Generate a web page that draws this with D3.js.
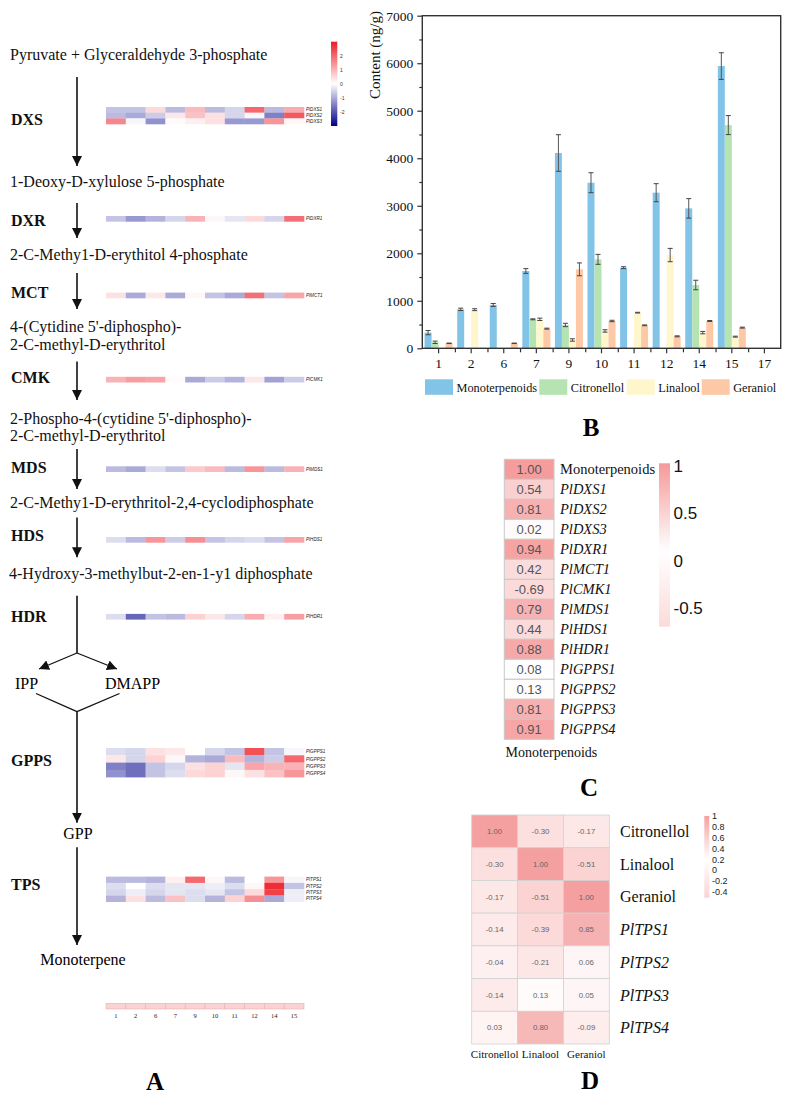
<!DOCTYPE html>
<html><head><meta charset="utf-8">
<script src="https://cdn.jsdelivr.net/npm/d3@7"></script>
<style>body{margin:0;background:#fff}</style>
</head><body>
<svg id="c" width="794" height="1098"></svg>
<script>
// ---------------- DATA ----------------
// Panel A
const samplesA = ["1","2","6","7","9","10","11","12","14","15"];
const metabolites = ["Pyruvate + Glyceraldehyde 3-phosphate","1-Deoxy-D-xylulose 5-phosphate","2-C-Methy1-D-erythitol 4-phosphate","4-(Cytidine 5'-diphospho)-","2-C-methyl-D-erythritol","2-Phospho-4-(cytidine 5'-diphospho)-","2-C-methyl-D-erythritol","2-C-Methy1-D-erythritol-2,4-cyclodiphosphate","4-Hydroxy-3-methylbut-2-en-1-y1 diphosphate"];
const enzymes = ["DXS","DXR","MCT","CMK","MDS","HDS","HDR","GPPS","TPS"];
const dxsGenes = ["PlDXS1","PlDXS2","PlDXS3"];
const dxsExpr = [[-0.7,-0.7,0.5,-0.8,0.9,-0.8,-0.5,2.0,-0.8,1.1],[-0.8,-1.0,-0.6,0.3,0.8,0.4,-0.5,-0.1,-1.5,2.2],[1.6,-0.1,-1.3,0.05,0.2,0.4,-1.2,-1.2,1.4,0.1]];
const dxrGenes = ["PlDXR1"];
const dxrExpr = [[-0.7,-1.2,-0.9,-0.5,1.0,0.1,-0.3,0.5,-0.5,1.9]];
const mctGenes = ["PlMCT1"];
const mctExpr = [[0.4,-1.0,0.3,-1.0,0.1,-0.7,-1.0,1.9,-0.7,1.2]];
const cmkGenes = ["PlCMK1"];
const cmkExpr = [[1.0,1.3,1.2,0.05,-1.0,-0.6,-0.9,0.3,-1.1,-0.6]];
const mdsGenes = ["PlMDS1"];
const mdsExpr = [[-0.8,-1.0,-0.4,-0.7,0.7,0.9,-0.8,1.4,-0.8,1.0]];
const hdsGenes = ["PlHDS1"];
const hdsExpr = [[-0.4,-0.8,1.4,-0.6,1.5,-0.7,-0.5,-0.4,-0.7,1.2]];
const hdrGenes = ["PlHDR1"];
const hdrExpr = [[-0.4,-1.8,-0.7,-0.8,0.6,0.3,-0.5,1.1,0.2,1.3]];
const gppsGenes = ["PlGPPS1","PlGPPS2","PlGPPS3","PlGPPS4"];
const gppsExpr = [[-0.4,-0.5,0.4,0.3,0.0,-0.5,-0.7,2.3,-0.7,-0.1],[0.3,-0.5,0.6,0.1,-0.9,-1.0,0.9,-0.9,-0.6,2.0],[-1.5,-1.7,-0.7,-0.5,0.4,0.6,-0.3,1.2,1.0,1.0],[-1.3,-1.7,-0.7,-0.4,0.5,0.6,0.1,0.4,0.8,1.4]];
const tpsGenes = ["PlTPS1","PlTPS2","PlTPS3","PlTPS4"];
const tpsExpr = [[-0.8,-0.8,-0.9,0.2,2.0,0.1,-0.8,0.0,1.4,-0.1],[-0.4,0.0,-0.4,-0.3,-0.3,-0.2,-0.4,0.1,2.8,-0.7],[-0.5,-0.2,-0.5,-0.3,-0.4,-0.3,-0.7,0.5,2.5,-0.2],[-0.9,0.4,-0.8,0.8,-0.4,-0.9,0.6,1.5,-1.0,-0.2]];
const colorbarATicks = [2,1,0,-1,-2];

// Panel B
const barCats = ["1","2","6","7","9","10","11","12","14","15","17"];
const seriesNames = ["Monoterpenoids","Citronellol","Linalool","Geraniol"];
const monoterpenoids = [330,820,912,1627,4110,3485,1697,3275,2945,5940,0];
const monoterpenoidsErr = [45,25,30,50,385,210,20,190,205,280,0];
const citronellol = [126,0,0,610,491,1872,0,0,1332,4698,0];
const citronellolErr = [25,0,0,10,35,105,0,0,100,200,0];
const linalool = [0,813,0,610,175,365,750,1963,330,245,0];
const linaloolErr = [0,20,0,25,25,25,8,140,25,10,0];
const geraniol = [105,0,105,414,1662,575,484,252,575,435,0];
const geraniolErr = [5,0,5,10,135,15,8,10,10,10,0];
const yTicksB = [0,1000,2000,3000,4000,5000,6000,7000];

// Panel C
const cRows = ["Monoterpenoids","PlDXS1","PlDXS2","PlDXS3","PlDXR1","PlMCT1","PlCMK1","PlMDS1","PlHDS1","PlHDR1","PlGPPS1","PlGPPS2","PlGPPS3","PlGPPS4"];
const cValues = [1.00,0.54,0.81,0.02,0.94,0.42,-0.69,0.79,0.44,0.88,0.08,0.13,0.81,0.91];
const cBarTicks = [1,0.5,0,-0.5];

// Panel D
const dRows = ["Citronellol","Linalool","Geraniol","PlTPS1","PlTPS2","PlTPS3","PlTPS4"];
const dCols = ["Citronellol","Linalool","Geraniol"];
const dValues = [[1.00,-0.30,-0.17],[-0.30,1.00,-0.51],[-0.17,-0.51,1.00],[-0.14,-0.39,0.85],[-0.04,-0.21,0.06],[-0.14,0.13,0.05],[0.03,0.80,-0.09]];
const dBarTicks = [1,0.8,0.6,0.4,0.2,0,-0.2,-0.4];

// ---------------- DRAW ----------------
const serif = "'Liberation Serif','Times New Roman',serif";
const sans = "'Liberation Sans',Arial,sans-serif";
const svg = d3.select("#c");
const defs = svg.append("defs");

// ===== Panel A =====
const A = svg.append("g");
const metY = [54,181,254.6,326.6,344,418,435.6,502,573.3];
metabolites.forEach((t,i)=>{
  A.append("text").attr("x", i===8?9:10).attr("y", metY[i]).attr("dy","0.35em")
   .attr("font-family", serif).attr("font-size", 16).attr("fill","#111").text(t);
});
const enzY = [119,220.4,292.4,377.6,467.8,534.9,616.6,760,884.3];
enzymes.forEach((t,i)=>{
  A.append("text").attr("x", 11).attr("y", enzY[i]).attr("dy","0.35em")
   .attr("font-family", serif).attr("font-weight","bold").attr("font-size", 16).attr("fill","#111").text(t);
});
// arrow marker
defs.append("marker").attr("id","ah").attr("viewBox","0 0 10 10").attr("refX",10).attr("refY",5)
  .attr("markerWidth",10).attr("markerHeight",10).attr("markerUnits","userSpaceOnUse").attr("orient","auto")
  .append("path").attr("d","M0,0 L10,5 L0,10 z").attr("fill","#111");
const ax = 77;
const arrows = [[77,166],[203,238],[273,309],[361.5,400],[449,489],[517.4,557.2],[711.7,822.8],[847.3,945]];
arrows.forEach(a=>{
  A.append("line").attr("x1",ax).attr("x2",ax).attr("y1",a[0]).attr("y2",a[1])
   .attr("stroke","#111").attr("stroke-width",1.6).attr("marker-end","url(#ah)");
});
A.append("line").attr("x1",ax).attr("x2",ax).attr("y1",595.7).attr("y2",653).attr("stroke","#111").attr("stroke-width",1.6);
[[39,669],[117,669]].forEach(p=>{
  A.append("line").attr("x1",ax).attr("y1",653).attr("x2",p[0]).attr("y2",p[1])
   .attr("stroke","#111").attr("stroke-width",1.3).attr("marker-end","url(#ah)");
});
[[36,693.5],[119.5,693.5]].forEach(p=>{
  A.append("line").attr("x1",p[0]).attr("y1",p[1]).attr("x2",ax).attr("y2",711.7)
   .attr("stroke","#111").attr("stroke-width",1.3);
});
A.append("text").attr("x",15).attr("y",683).attr("dy","0.35em").attr("font-family",serif).attr("font-size",16).text("IPP");
A.append("text").attr("x",105).attr("y",683).attr("dy","0.35em").attr("font-family",serif).attr("font-size",16).text("DMAPP");
A.append("text").attr("x",78).attr("y",833.3).attr("dy","0.35em").attr("text-anchor","middle").attr("font-family",serif).attr("font-size",16).text("GPP");
A.append("text").attr("x",83).attr("y",959).attr("dy","0.35em").attr("text-anchor","middle").attr("font-family",serif).attr("font-size",16).text("Monoterpene");

const hx = d3.scaleBand().domain(samplesA).range([106,304]);
const colA = d3.scaleLinear().domain([-3,0,3]).range(["#00008b","#ffffff","#ee1c25"]).clamp(true);
const blocks = [
  {g:dxsGenes,e:dxsExpr,y0:107,h:5.7},
  {g:dxrGenes,e:dxrExpr,y0:216,h:5.5},
  {g:mctGenes,e:mctExpr,y0:292.6,h:5.5},
  {g:cmkGenes,e:cmkExpr,y0:376.8,h:5.5},
  {g:mdsGenes,e:mdsExpr,y0:466.3,h:5.5},
  {g:hdsGenes,e:hdsExpr,y0:537,h:5.5},
  {g:hdrGenes,e:hdrExpr,y0:613.9,h:5.5},
  {g:gppsGenes,e:gppsExpr,y0:748,h:7.3},
  {g:tpsGenes,e:tpsExpr,y0:876.6,h:6.3}
];
blocks.forEach(b=>{
  b.e.forEach((row,ri)=>{
    const yy = b.y0 + ri*b.h;
    A.selectAll(null).data(row).enter().append("rect")
      .attr("x",(d,i)=>hx(samplesA[i])).attr("y",yy).attr("width",hx.bandwidth()+0.3).attr("height",b.h+0.2)
      .attr("fill",d=>colA(d));
    A.append("text").attr("x",306).attr("y",yy+b.h/2).attr("dy","0.35em")
      .attr("font-family",sans).attr("font-style","italic").attr("font-size",4.6).attr("fill","#222").text(b.g[ri]);
  });
});
// colorbar A
const gA = defs.append("linearGradient").attr("id","gA").attr("x1",0).attr("x2",0).attr("y1",0).attr("y2",1);
d3.range(0,1.0001,0.1).forEach(t=>gA.append("stop").attr("offset",t).attr("stop-color",colA(3-6*t)));
const yA = d3.scaleLinear().domain([3,-3]).range([41.7,126]);
A.append("rect").attr("x",331).attr("y",yA(3)).attr("width",6.3).attr("height",yA(-3)-yA(3)).attr("fill","url(#gA)");
colorbarATicks.forEach(v=>{
  A.append("text").attr("x",340).attr("y",yA(v)).attr("dy","0.35em").attr("font-family",sans).attr("font-size",5).attr("fill","#333").text(v);
});
// bottom sample strip
A.selectAll(null).data(samplesA).enter().append("rect")
  .attr("x",d=>hx(d)).attr("y",1003.3).attr("width",hx.bandwidth()).attr("height",5.7)
  .attr("fill","#fbd2d2").attr("stroke","#eeb0b0").attr("stroke-width",0.6);
A.selectAll(null).data(samplesA).enter().append("text")
  .attr("x",d=>hx(d)+hx.bandwidth()/2).attr("y",1015.7).attr("dy","0.35em").attr("text-anchor","middle")
  .attr("font-family",serif).attr("font-size",6.5).attr("fill","#222").text(d=>d);
A.append("text").attr("x",155).attr("y",1081).attr("dy","0.35em").attr("text-anchor","middle")
  .attr("font-family",serif).attr("font-weight","bold").attr("font-size",25).text("A");

// ===== Panel B =====
const B = svg.append("g");
const xB = d3.scaleBand().domain(barCats).range([422.3,780.7]).padding(0);
const yB = d3.scaleLinear().domain([0,7000]).range([348.3,15.7]);
const subB = d3.scaleBand().domain(seriesNames).range([-14,14]);
const barColors = ["#82c4e8","#b5e3b1","#fff6cc","#fcc8a6"];
const vals = [monoterpenoids,citronellol,linalool,geraniol];
const errs = [monoterpenoidsErr,citronellolErr,linaloolErr,geraniolErr];
seriesNames.forEach((s,si)=>{
  const data = barCats.map((c,i)=>({c,v:vals[si][i],e:errs[si][i]}));
  B.selectAll(null).data(data.filter(d=>d.v>0)).enter().append("rect")
    .attr("x",d=>xB(d.c)+xB.bandwidth()/2+subB(s)).attr("width",subB.bandwidth())
    .attr("y",d=>yB(d.v)).attr("height",d=>yB(0)-yB(d.v)).attr("fill",barColors[si]);
  const eb = data.filter(d=>d.v>0 && d.e>0);
  const cx = d=>xB(d.c)+xB.bandwidth()/2+subB(s)+subB.bandwidth()/2;
  B.selectAll(null).data(eb).enter().append("line")
    .attr("x1",cx).attr("x2",cx).attr("y1",d=>yB(d.v-d.e)).attr("y2",d=>yB(d.v+d.e))
    .attr("stroke","#555").attr("stroke-width",1);
  [1,-1].forEach(sg=>{
    B.selectAll(null).data(eb).enter().append("line")
      .attr("x1",d=>cx(d)-2.5).attr("x2",d=>cx(d)+2.5).attr("y1",d=>yB(d.v+sg*d.e)).attr("y2",d=>yB(d.v+sg*d.e))
      .attr("stroke","#444").attr("stroke-width",1);
  });
});
// axes
const yAxB = B.append("g").attr("transform","translate(422.3,0)").call(d3.axisLeft(yB).tickValues(yTicksB).tickSize(5).tickPadding(4).tickFormat(d3.format("d")));
const yMinor = B.append("g").attr("transform","translate(422.3,0)").call(d3.axisLeft(yB).tickValues(d3.range(500,7000,1000)).tickSize(3).tickFormat(""));
const xAxB = B.append("g").attr("transform","translate(0,348.3)").call(d3.axisBottom(xB).tickSize(5).tickPadding(5));
const xMinor = B.append("g").attr("transform","translate(0,348.3)").call(d3.axisBottom(d3.scaleLinear().domain([0,11]).range([422.3,780.7])).tickValues(d3.range(1,11)).tickSize(4).tickFormat(""));
[yAxB,yMinor,xAxB,xMinor].forEach(g=>{
  g.select(".domain").remove();
  g.selectAll("line").attr("stroke","#333").attr("stroke-width",1.2);
  g.selectAll("text").attr("font-family",serif).attr("font-size",13.5).attr("fill","#111");
});
B.append("rect").attr("x",422.3).attr("y",15.7).attr("width",780.7-422.3).attr("height",348.3-15.7)
  .attr("fill","none").attr("stroke","#333").attr("stroke-width",1.4);
B.append("text").attr("transform","translate(375,55) rotate(-90)").attr("dy","0.35em").attr("text-anchor","middle")
  .attr("font-family",serif).attr("font-size",15).attr("fill","#111").text("Content (ng/g)");
// legend
const legX = [425,539.3,626.7,701.7];
seriesNames.forEach((s,i)=>{
  B.append("rect").attr("x",legX[i]).attr("y",379.3).attr("width",28).attr("height",15.5).attr("fill",barColors[i]);
  B.append("text").attr("x",legX[i]+31.5).attr("y",387.3).attr("dy","0.35em").attr("font-family",serif).attr("font-size",12.3).attr("fill","#111").text(s);
});
B.append("text").attr("x",591).attr("y",427.3).attr("dy","0.35em").attr("text-anchor","middle")
  .attr("font-family",serif).attr("font-weight","bold").attr("font-size",25).text("B");

// ===== Panel C =====
const C = svg.append("g");
const yC = d3.scaleBand().domain(cRows).range([459.3,739.3]);
const colC = d3.scaleLinear().domain([-0.69,0.1,1]).range(["#fcdada","#ffffff","#f59c9c"]);
C.selectAll(null).data(cRows).enter().append("rect")
  .attr("x",504.3).attr("y",d=>yC(d)).attr("width",49.7).attr("height",yC.bandwidth())
  .attr("fill",(d,i)=>colC(cValues[i])).attr("stroke","#c8c8c8").attr("stroke-width",1);
C.selectAll(null).data(cRows).enter().append("text")
  .attr("x",529.2).attr("y",d=>yC(d)+yC.bandwidth()/2).attr("dy","0.36em").attr("text-anchor","middle")
  .attr("font-family",sans).attr("font-size",13).attr("fill","#555").text((d,i)=>cValues[i].toFixed(2));
C.selectAll(null).data(cRows).enter().append("text")
  .attr("x",560).attr("y",d=>yC(d)+yC.bandwidth()/2).attr("dy","0.35em")
  .attr("font-family",serif).attr("font-style",(d,i)=>i===0?"normal":"italic").attr("font-size",14.5).attr("fill","#111").text(d=>d);
const gC = defs.append("linearGradient").attr("id","gC").attr("x1",0).attr("x2",0).attr("y1",0).attr("y2",1);
const ycb = d3.scaleLinear().domain([1,-0.5]).range([466,608.3]);
d3.range(0,1.0001,0.05).forEach(t=>gC.append("stop").attr("offset",t).attr("stop-color",colC(ycb.invert(463.3+t*(626.7-463.3)))));
C.append("rect").attr("x",659).attr("y",463.3).attr("width",11).attr("height",626.7-463.3).attr("fill","url(#gC)");
cBarTicks.forEach(v=>{
  C.append("text").attr("x",673.5).attr("y",ycb(v)).attr("dy","0.35em").attr("font-family",sans).attr("font-size",17).attr("fill","#111").text(v);
});
C.append("text").attr("x",505.5).attr("y",752.5).attr("dy","0.35em").attr("font-family",serif).attr("font-size",14).attr("fill","#111").text("Monoterpenoids");
C.append("text").attr("x",589).attr("y",787).attr("dy","0.35em").attr("text-anchor","middle")
  .attr("font-family",serif).attr("font-weight","bold").attr("font-size",25).text("C");

// ===== Panel D =====
const D = svg.append("g");
const xD = d3.scaleBand().domain(dCols).range([471.7,609.3]);
const yD = d3.scaleBand().domain(dRows).range([815,1044]);
const colD = d3.scaleLinear().domain([-0.51,0.2,1]).range(["#fbd3d3","#ffffff","#f4a0a0"]);
dRows.forEach((r,ri)=>{
  dCols.forEach((c,ci)=>{
    const v = dValues[ri][ci];
    D.append("rect").attr("x",xD(c)).attr("y",yD(r)).attr("width",xD.bandwidth()).attr("height",yD.bandwidth())
      .attr("fill",colD(v)).attr("stroke","#d2d2d2").attr("stroke-width",0.8);
    D.append("text").attr("x",xD(c)+xD.bandwidth()/2).attr("y",yD(r)+yD.bandwidth()/2).attr("dy","0.35em").attr("text-anchor","middle")
      .attr("font-family",sans).attr("font-size",7.8).attr("fill","#666").text(v.toFixed(2));
  });
});
D.selectAll(null).data(dRows).enter().append("text")
  .attr("x",620).attr("y",d=>yD(d)+yD.bandwidth()/2).attr("dy","0.35em")
  .attr("font-family",serif).attr("font-style",(d,i)=>i<3?"normal":"italic").attr("font-size",16).attr("fill","#111").text(d=>d);
D.selectAll(null).data(dCols).enter().append("text")
  .attr("x",d=>xD(d)+xD.bandwidth()/2).attr("y",1054.6).attr("dy","0.35em").attr("text-anchor","middle")
  .attr("font-family",serif).attr("font-size",11).attr("fill","#111").text(d=>d);
const gD = defs.append("linearGradient").attr("id","gD").attr("x1",0).attr("x2",0).attr("y1",0).attr("y2",1);
const ydb = d3.scaleLinear().domain([1,-0.4]).range([816,892]);
d3.range(0,1.0001,0.05).forEach(t=>gD.append("stop").attr("offset",t).attr("stop-color",colD(ydb.invert(816+t*(897.7-816)))));
D.append("rect").attr("x",704.3).attr("y",816).attr("width",5).attr("height",897.7-816).attr("fill","url(#gD)");
dBarTicks.forEach(v=>{
  D.append("text").attr("x",712).attr("y",ydb(v)).attr("dy","0.35em").attr("font-family",sans).attr("font-size",9).attr("fill","#222").text(v);
});
D.append("text").attr("x",590).attr("y",1080.5).attr("dy","0.35em").attr("text-anchor","middle")
  .attr("font-family",serif).attr("font-weight","bold").attr("font-size",25).text("D");
</script>
</body></html>
